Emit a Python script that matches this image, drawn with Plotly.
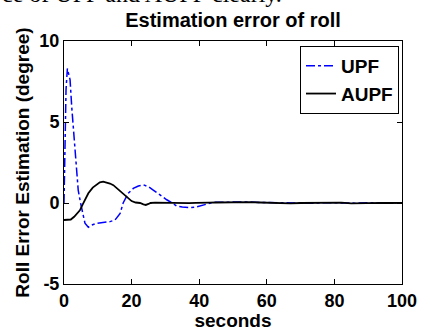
import plotly.graph_objects as go

# UPF (dash-dot blue)
upf_t = [0, 0.3, 0.6, 1.0, 1.4, 1.8, 2.3, 2.75, 3.3, 3.75, 4.2, 4.9, 5.5, 6.2, 7.2, 8.2, 9.7, 11.5, 13.6,
         15.1, 16.6, 17.5, 19, 20.5, 22, 23.5, 25, 26.4, 28.4, 30.4, 32, 33.3, 35, 37.3, 39, 40.2, 42, 44.2,
         46, 48, 50, 52, 55, 58, 62, 66, 70, 74, 78, 82, 86, 90, 94, 98, 100]
upf_v = [0.0, 4.0, 7.0, 8.3, 8.0, 7.6, 5.9, 4.7, 3.1, 1.83, 0.8, 0.0, -0.6, -1.25, -1.5, -1.36, -1.25, -1.2, -1.15,
         -1.05, -0.64, 0.0, 0.6, 0.9, 1.05, 1.12, 1.0, 0.8, 0.49, 0.2, 0.0, -0.18, -0.25, -0.29, -0.25, -0.18, -0.08, 0.04,
         0.05, 0.06, 0.07, 0.05, 0.06, 0.03, 0.02, 0.0, 0.01, -0.01, 0.02, 0.0, -0.01, 0.01, 0.03, 0.01, 0.02]

# AUPF (solid black)
aupf_t = [0, 1, 2, 3, 4, 4.7, 5.5, 6.3, 7.2, 8.5, 9.7, 10.6, 11.6, 12.6, 13.6, 14.6, 16, 17.5, 18.8, 20,
          21.2, 22.5, 23.5, 24.2, 25, 25.6, 27, 29, 31, 33, 35, 37, 39, 41, 43, 45, 47, 49, 51, 53, 55,
          58, 61, 64, 67, 70, 73, 76, 79, 82, 85, 88, 91, 94, 97, 100]
aupf_v = [-1.05, -1.05, -1.02, -0.85, -0.65, -0.45, -0.1, 0.25, 0.6, 0.95, 1.17, 1.28, 1.32, 1.28, 1.2, 1.1, 0.85, 0.55, 0.3, 0.12,
          0.03, 0.0, -0.08, -0.12, -0.06, 0.0, 0.02, 0.01, 0.0, 0.02, 0.0, -0.01, 0.01, 0.0, 0.02, 0.03, 0.04, 0.05, 0.07, 0.06, 0.05,
          0.03, 0.01, 0.0, -0.02, 0.0, 0.01, -0.01, 0.0, 0.02, -0.02, 0.0, -0.01, 0.01, 0.0, 0.01]

x_ticks = [0, 20, 40, 60, 80, 100]
y_ticks = [-5, 0, 5, 10]

FONT = "Liberation Sans, Arial, sans-serif"

fig = go.Figure()
fig.add_trace(go.Scatter(x=upf_t, y=upf_v, mode="lines", name="<b>UPF</b>",
                         line=dict(color="#0000FF", width=1.5, dash="dashdot")))
fig.add_trace(go.Scatter(x=aupf_t, y=aupf_v, mode="lines", name="<b>AUPF</b>",
                         line=dict(color="black", width=1.8)))

W, H = 422, 331
L, R, T, B = 64, 20, 41, 47
pw, ph = W - L - R, H - T - B

fig.update_layout(
    template="none",
    width=W, height=H,
    margin=dict(l=L, r=R, t=T, b=B, pad=0),
    paper_bgcolor="white", plot_bgcolor="white",
    font=dict(family=FONT, size=18, color="black"),
    title=dict(text="<b>Estimation error of roll</b>", x=(L + pw / 2) / W, xanchor="center",
               y=1 - 20 / H, yanchor="middle", font=dict(size=20)),
    showlegend=True,
    legend=dict(x=(399 - L) / pw, xanchor="right", y=(H - B - 46) / ph, yanchor="top",
                bordercolor="black", borderwidth=1, bgcolor="white",
                font=dict(size=19), tracegroupgap=0),
    xaxis=dict(range=[0, 100], tickvals=x_ticks, ticktext=[f"<b>{v}</b>" for v in x_ticks],
               ticks="inside", ticklen=5, tickcolor="black", showline=True, linecolor="black",
               linewidth=1, mirror="ticks", showgrid=False, zeroline=False, automargin=False,
               tickfont=dict(size=18),
               title=dict(text="<b>seconds</b>", standoff=2, font=dict(size=19))),
    yaxis=dict(range=[-5, 10], tickvals=y_ticks, ticktext=[f"<b>{v}</b>" for v in y_ticks],
               ticks="inside", ticklen=5, tickcolor="black", showline=True, linecolor="black",
               linewidth=1, mirror="ticks", showgrid=False, zeroline=False, automargin=False,
               tickfont=dict(size=18),
               title=dict(text="<b>Roll Error Estimation (degree)</b>", standoff=4, font=dict(size=19))),
)

fig.add_annotation(text="ce of UPF and AUPF clearly.", xref="paper", yref="paper",
                   x=(0 - L) / pw, xanchor="left", y=(H - B + 6) / ph, yanchor="middle",
                   showarrow=False, font=dict(family="Liberation Serif, Times New Roman, serif", size=24))

fig.write_html("out.html", config={"displayModeBar": False},
               post_script="document.body.style.margin='0';document.body.style.overflow='hidden';")
